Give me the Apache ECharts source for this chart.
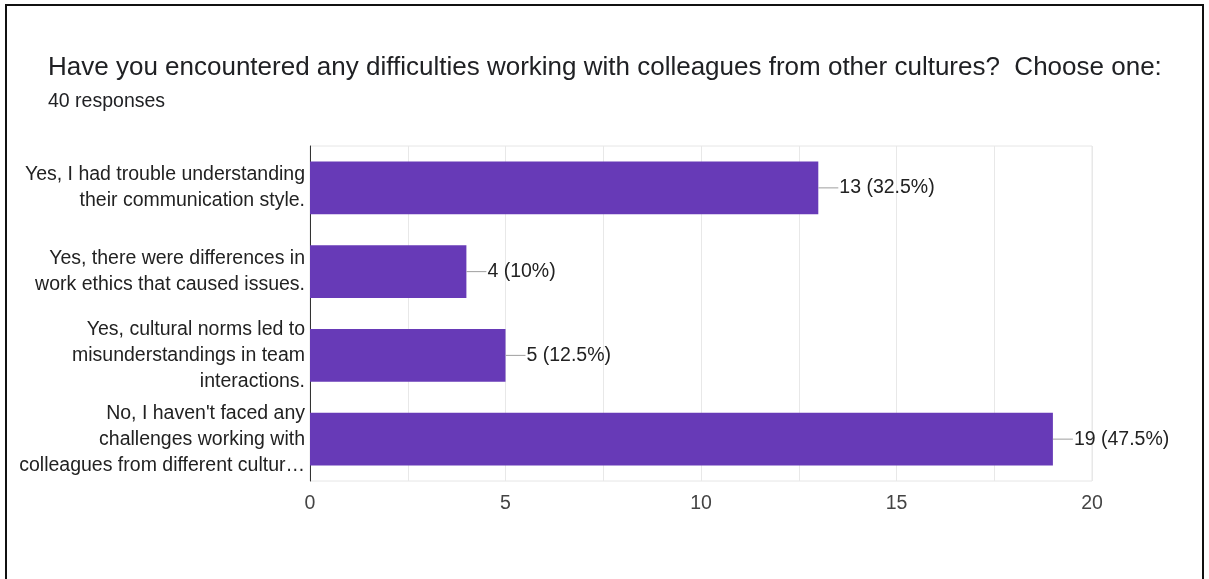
<!DOCTYPE html>
<html>
<head>
<meta charset="utf-8">
<script src="https://cdn.jsdelivr.net/npm/echarts@6/dist/echarts.min.js"></script>
<style>
  html, body { margin: 0; padding: 0; background: #fff; }
  #chart { width: 1209px; height: 579px; }
</style>
</head>
<body>
<div id="chart"></div>
<script>
// Survey answers (wrapped as they are shown on the axis)
const categories = [
  "Yes, I had trouble understanding\ntheir communication style.",
  "Yes, there were differences in\nwork ethics that caused issues.",
  "Yes, cultural norms led to\nmisunderstandings in team\ninteractions.",
  "No, I haven't faced any\nchallenges working with\ncolleagues from different cultur…"
];
const counts = [13, 4, 5, 19];
const totalResponses = 40;
const xTicks = [0, 5, 10, 15, 20];

const titleText = "Have you encountered any difficulties working with colleagues from other cultures?  Choose one:";
const subtitleText = totalResponses + " responses";

const FONT = '"Liberation Sans", Arial, Helvetica, sans-serif';

const chart = echarts.init(document.getElementById('chart'));

function pct(v) {
  const p = v / totalResponses * 100;
  return (Math.round(p * 10) / 10) + '%';
}

chart.setOption({
  animation: false,
  backgroundColor: '#ffffff',
  title: {
    text: titleText,
    subtext: subtitleText,
    left: 43,
    top: 50,
    itemGap: 11,
    textStyle: { fontFamily: FONT, fontSize: 26, fontWeight: 'normal', color: '#202124' },
    subtextStyle: { fontFamily: FONT, fontSize: 19.5, color: '#202124' }
  },
  graphic: [{
    type: 'rect',
    shape: { x: 6, y: 5, width: 1197, height: 620 },
    style: { fill: 'none', stroke: '#111', lineWidth: 2 },
    silent: true
  }],
  grid: {
    left: 310, right: 117, top: 146, bottom: 98, containLabel: false,
    show: true, borderColor: '#e6e6e6', borderWidth: 1
  },
  xAxis: {
    type: 'value',
    min: 0,
    max: 20,
    interval: 2.5,
    axisLine: { show: false },
    axisTick: { show: false },
    splitLine: { show: true, lineStyle: { color: '#e8e8e8', width: 1 } },
    axisLabel: {
      margin: 13,
      fontFamily: FONT,
      fontSize: 19.5,
      color: '#444',
      formatter: v => xTicks.indexOf(v) >= 0 ? String(v) : ''
    }
  },
  yAxis: {
    type: 'category',
    data: categories,
    inverse: true,
    axisLine: { show: true, lineStyle: { color: '#333', width: 1 } },
    axisTick: { show: false },
    splitLine: { show: false },
    axisLabel: {
      margin: 5,
      fontFamily: FONT,
      fontSize: 19.5,
      lineHeight: 26,
      color: '#222',
      align: 'right'
    }
  },
  series: [{
    type: 'bar',
    data: counts,
    barWidth: '63%',
    itemStyle: { color: '#673ab7' },
    label: {
      show: true,
      position: 'right',
      distance: 0,
      formatter: p => '{lead|}{txt|' + p.value + ' (' + pct(p.value) + ')}',
      rich: {
        lead: { width: 20, height: 1, backgroundColor: '#9e9e9e' },
        txt: { fontFamily: FONT, fontSize: 19.5, color: '#222', padding: [0, 0, 0, 1] }
      }
    }
  }]
});
</script>
</body>
</html>
